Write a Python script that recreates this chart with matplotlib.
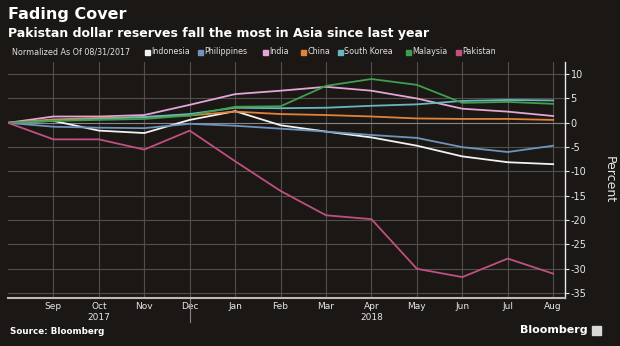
import matplotlib.pyplot as plt

# monthly points, 08/31/2017 .. 08/31/2018 (percent change)
months = ["", "Sep", "Oct", "Nov", "Dec", "Jan", "Feb", "Mar", "Apr", "May", "Jun", "Jul", "Aug"]
indonesia = [0, 0.4, -1.6, -2.1, 0.6, 2.4, -0.5, -1.8, -3.0, -4.7, -6.9, -8.1, -8.5]
philippines = [0, -0.8, -1.0, -1.1, -0.2, -0.6, -1.2, -1.8, -2.5, -3.1, -5.0, -6.0, -4.7]
india = [0, 1.3, 1.3, 1.6, 3.7, 5.9, 6.6, 7.4, 6.6, 5.0, 2.9, 2.3, 1.4]
china = [0, 0.7, 1.0, 1.2, 1.5, 2.3, 1.8, 1.6, 1.3, 0.9, 0.8, 0.8, 0.6]
south_korea = [0, 0.5, 0.8, 1.2, 1.8, 3.1, 3.0, 3.1, 3.5, 3.8, 4.5, 4.7, 4.6]
malaysia = [0, 0.4, 0.6, 0.8, 1.5, 3.3, 3.4, 7.6, 9.0, 7.8, 4.1, 4.3, 3.9]
pakistan = [0, -3.4, -3.4, -5.5, -1.6, -7.9, -14.0, -19.0, -19.8, -30.0, -31.7, -27.9, -31.0]

names = ["Indonesia", "Philippines", "India", "China", "South Korea", "Malaysia", "Pakistan"]
series = [indonesia, philippines, india, china, south_korea, malaysia, pakistan]
colors = ["#f2f2f2", "#6f93bf", "#e3a6d6", "#e2823a", "#66b8bc", "#3f9f4f", "#c04f82"]
legend_x = [145, 198, 263, 301, 338, 406, 456]  # pixel positions of legend swatches

bg = "#1b1715"
fig = plt.figure(figsize=(6.2, 3.46), dpi=100, facecolor=bg)
ax = fig.add_axes([8 / 620, 1 - 298 / 346, (565 - 8) / 620, (298 - 62) / 346])
ax.set_facecolor(bg)

x = list(range(len(months)))
for vals, c in zip(series, colors):
    ax.plot(x, vals, color=c, lw=1.3, zorder=3)

ax.set_xlim(0, 12.26)
ax.set_ylim(-36, 12.5)

# grid
for xi in x[1:]:
    ax.axvline(xi, color="#524e4c", lw=0.8, zorder=1)
for yv in range(-35, 15, 5):
    ax.axhline(yv, color="#8a8684" if yv == 0 else "#524e4c", lw=0.8, zorder=1)

ax.set_xticks(x[1:])
ax.set_xticklabels(months[1:], color="#e8e8e8", fontsize=6.5)
ax.tick_params(axis="x", length=0, pad=3)
ax.yaxis.tick_right()
ax.set_yticks(range(-35, 15, 5))
ax.set_yticklabels([str(v) for v in range(-35, 15, 5)], color="#e8e8e8", fontsize=7)
ax.tick_params(axis="y", length=3, color="#e8e8e8", pad=1)
for s in ["top", "left"]:
    ax.spines[s].set_visible(False)
ax.spines["right"].set_color("#e8e8e8")
ax.spines["right"].set_linewidth(1)
ax.spines["bottom"].set_color("#bdbab8")
ax.spines["bottom"].set_linewidth(1.5)

ax.text(1.08, 0.5, "Percent", transform=ax.transAxes, rotation=-90,
        color="#e8e8e8", fontsize=9, va="center", ha="center")

# year labels and year separator
ax.text(2, -0.062, "2017", transform=ax.get_xaxis_transform(), ha="center",
        va="top", color="#e8e8e8", fontsize=6.5)
ax.text(8, -0.062, "2018", transform=ax.get_xaxis_transform(), ha="center",
        va="top", color="#e8e8e8", fontsize=6.5)
ax.plot([4, 4], [0, -0.1], transform=ax.get_xaxis_transform(), color="#8a8684",
        lw=0.8, clip_on=False)

# titles
fig.text(8 / 620, 1 - 15 / 346, "Fading Cover", color="white", fontsize=11.5,
         fontweight="bold", va="center")
fig.text(8 / 620, 1 - 34 / 346, "Pakistan dollar reserves fall the most in Asia since last year",
         color="white", fontsize=9, fontweight="bold", va="center")

# legend row
fig.text(12 / 620, 1 - 52 / 346, "Normalized As Of 08/31/2017", color="#e0e0e0",
         fontsize=5.8, va="center")
for nm, c, lx in zip(names, colors, legend_x):
    fig.patches.append(plt.Rectangle((lx / 620, 1 - 55 / 346), 5 / 620, 5 / 346,
                                     transform=fig.transFigure, color=c))
    fig.text((lx + 6) / 620, 1 - 52 / 346, nm, color="#e0e0e0", fontsize=5.8, va="center")

# footer
fig.text(10 / 620, 1 - 332 / 346, "Source: Bloomberg", color="white", fontsize=6.3,
         fontweight="bold", va="center")
fig.text(588 / 620, 1 - 330 / 346, "Bloomberg", color="white", fontsize=8,
         fontweight="bold", va="center", ha="right")
fig.patches.append(plt.Rectangle((592 / 620, 1 - 335 / 346), 9 / 620, 9 / 346,
                                 transform=fig.transFigure, color="#d8d8d8"))

fig.savefig("out.png", dpi=100, facecolor=bg)
